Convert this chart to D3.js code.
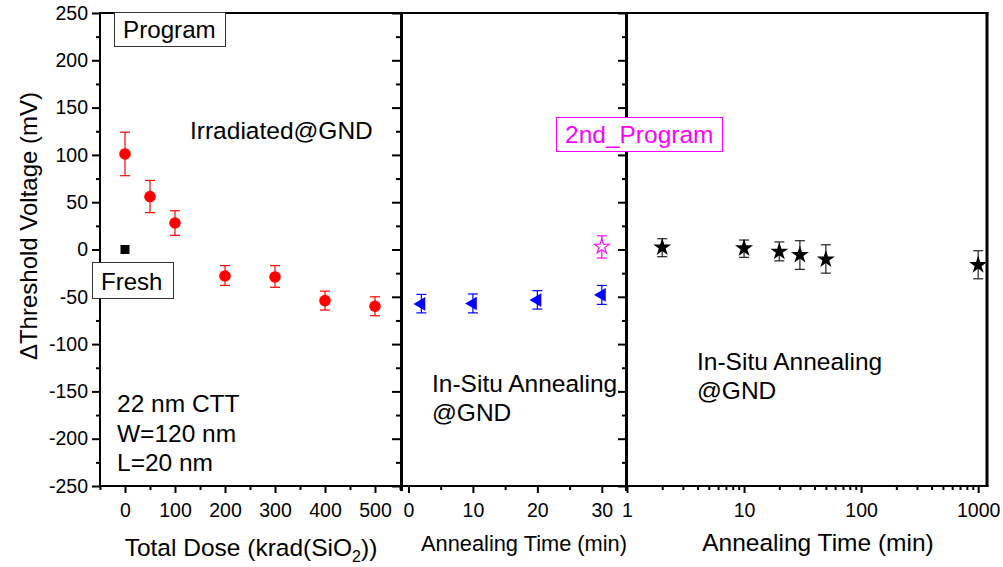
<!DOCTYPE html>
<html>
<head>
<meta charset="utf-8">
<script src="https://cdn.jsdelivr.net/npm/d3@7"></script>
<style>
  html, body { margin: 0; padding: 0; background: #fff; }
  svg { display: block; font-family: "Liberation Sans", Arial, sans-serif; }
</style>
</head>
<body>
<svg id="chart" width="1003" height="567"></svg>
<script>
// ---- Data ----
// Panel 1: threshold shift vs. total ionizing dose (irradiated, gate @ GND)
const doseKrad      = [0, 50, 100, 200, 300, 400, 500];
const doseShift     = [101, 56, 28, -28, -29, -54, -60];
const doseErrLow    = [78, 39, 15, -38, -40, -64, -70];
const doseErrHigh   = [124, 73, 41, -17, -17, -44, -50];
const freshDose     = [0];
const freshShift    = [0];

// Panel 2: in-situ annealing (linear time axis)
const annealTime1   = [2, 10, 20, 30];
const annealShift1  = [-57.5, -57, -53.5, -48];
const annealLow1    = [-67, -67, -63, -58];
const annealHigh1   = [-47.5, -47, -43.5, -38];
const reprogTime    = [30];
const reprogShift   = [3];
const reprogLow     = [-9];
const reprogHigh    = [14.5];

// Panel 3: in-situ annealing after second program (log time axis)
const annealTime2   = [2, 10, 20, 30, 50, 1000];
const annealShift2  = [2.3, 1.3, -2.3, -5.8, -10.4, -16.4];
const annealLow2    = [-7.6, -8.3, -12, -21, -25, -31];
const annealHigh2   = [11.4, 10, 8, 9.3, 5, -1.3];

// Axis extents and ticks
const yExtent       = [-250, 250];
const yTicks        = [-250, -200, -150, -100, -50, 0, 50, 100, 150, 200, 250];
const doseExtent    = [-50, 550];
const doseTicks     = [0, 100, 200, 300, 400, 500];
const time1Extent   = [-1, 33.75];
const time1Ticks    = [0, 10, 20, 30];
const time2Extent   = [1, 1190];
const time2Ticks    = [1, 10, 100, 1000];

// ---- Layout ----
const svg = d3.select("#chart");
const plotTop = 13, plotBottom = 486;
const p1 = [100, 400], p2 = [402, 626], p3 = [627, 987];

const y = d3.scaleLinear().domain(yExtent).range([plotBottom, plotTop]);
const x1 = d3.scaleLinear().domain(doseExtent).range(p1);
const x2 = d3.scaleLinear().domain(time1Extent).range(p2);
const x3 = d3.scaleLog().domain(time2Extent).range(p3);

const RED = "#ff0000", BLUE = "#0000ff", MAG = "#ff00ff";
const plain = d => String(d);   // hyphen-minus labels

// ---- Axes ----
const yMinor = d3.range(-250, 251, 25).filter(v => v % 50 !== 0);

// left y axis with labels
const gy = svg.append("g").attr("transform", `translate(${p1[0]},0)`);
gy.call(d3.axisLeft(y).tickValues(yTicks).tickSize(8).tickPadding(4).tickFormat(plain));
gy.append("g").call(d3.axisLeft(y).tickValues(yMinor).tickSize(4).tickFormat(""));

// right-hand ticks (pointing inward) for panel 1 and panel 2
[p1[1], p2[1]].forEach(px => {
  const g = svg.append("g").attr("transform", `translate(${px},0)`);
  g.call(d3.axisLeft(y).tickValues(yTicks).tickSize(8).tickFormat(""));
  g.append("g").call(d3.axisLeft(y).tickValues(yMinor).tickSize(4).tickFormat(""));
});

// bottom x axes
const gx1 = svg.append("g").attr("transform", `translate(0,${plotBottom})`);
gx1.call(d3.axisBottom(x1).tickValues(doseTicks).tickSize(7).tickPadding(10).tickFormat(plain));
gx1.append("g").call(d3.axisBottom(x1).tickValues(d3.range(-50, 551, 100)).tickSize(4).tickFormat(""));

const gx2 = svg.append("g").attr("transform", `translate(0,${plotBottom})`);
gx2.call(d3.axisBottom(x2).tickValues(time1Ticks).tickSize(7).tickPadding(10).tickFormat(plain));
gx2.append("g").call(d3.axisBottom(x2).tickValues([5, 15, 25]).tickSize(4).tickFormat(""));

const logMinor = [];
[1, 10, 100].forEach(dec => d3.range(2, 10).forEach(m => logMinor.push(dec * m)));
const gx3 = svg.append("g").attr("transform", `translate(0,${plotBottom})`);
gx3.call(d3.axisBottom(x3).tickValues(time2Ticks).tickSize(7).tickPadding(10).tickFormat(plain));
gx3.append("g").call(d3.axisBottom(x3).tickValues(logMinor).tickSize(4).tickFormat(""));

// axis styling
svg.selectAll(".domain").remove();
svg.selectAll(".tick line").attr("stroke", "#000").attr("stroke-width", 2);
svg.selectAll(".tick text").attr("fill", "#000").style("font-size", "19.5px")
   .style("font-family", '"Liberation Sans", Arial, sans-serif');

// frame lines
const frame = svg.append("g").attr("stroke", "#000").attr("fill", "none");
frame.append("line").attr("x1", p1[0]).attr("x2", p3[1] + 1.5).attr("y1", plotTop).attr("y2", plotTop).attr("stroke-width", 2);
frame.append("line").attr("x1", p1[0] - 1).attr("x2", p3[1] + 1.5).attr("y1", plotBottom).attr("y2", plotBottom).attr("stroke-width", 2);
frame.append("line").attr("x1", p1[0]).attr("x2", p1[0]).attr("y1", plotTop - 1).attr("y2", plotBottom + 1).attr("stroke-width", 2);
frame.append("line").attr("x1", 401.5).attr("x2", 401.5).attr("y1", plotTop - 1).attr("y2", plotBottom + 5).attr("stroke-width", 3);
frame.append("line").attr("x1", 626.5).attr("x2", 626.5).attr("y1", plotTop - 1).attr("y2", plotBottom + 5).attr("stroke-width", 3);
frame.append("line").attr("x1", p3[1]).attr("x2", p3[1]).attr("y1", plotTop - 1).attr("y2", plotBottom + 1).attr("stroke-width", 3);

// ---- Marks ----
function errorBars(g, xs, lo, hi, xScale, color) {
  const cap = 5;
  const eg = g.append("g").attr("stroke", color).attr("stroke-width", 1.2).attr("fill", "none");
  xs.forEach((xv, i) => {
    const cx = xScale(xv);
    eg.append("line").attr("x1", cx).attr("x2", cx).attr("y1", y(lo[i])).attr("y2", y(hi[i]));
    eg.append("line").attr("x1", cx - cap).attr("x2", cx + cap).attr("y1", y(lo[i])).attr("y2", y(lo[i]));
    eg.append("line").attr("x1", cx - cap).attr("x2", cx + cap).attr("y1", y(hi[i])).attr("y2", y(hi[i]));
  });
}

const marks = svg.append("g");

// panel 1
errorBars(marks, doseKrad, doseErrLow, doseErrHigh, x1, RED);
marks.append("g").selectAll("circle").data(doseKrad).join("circle")
  .attr("cx", d => x1(d)).attr("cy", (d, i) => y(doseShift[i])).attr("r", 5.8).attr("fill", RED);
marks.append("g").selectAll("rect").data(freshDose).join("rect")
  .attr("x", d => x1(d) - 4.5).attr("y", (d, i) => y(freshShift[i]) - 4.5)
  .attr("width", 9).attr("height", 9).attr("fill", "#000");

// panel 2
errorBars(marks, annealTime1, annealLow1, annealHigh1, x2, BLUE);
const tri = d3.symbol().type(d3.symbolTriangle).size(80);
marks.append("g").selectAll("path").data(annealTime1).join("path")
  .attr("d", tri)
  .attr("transform", (d, i) => `translate(${x2(d)},${y(annealShift1[i])}) rotate(-90)`)
  .attr("fill", BLUE);

errorBars(marks, reprogTime, reprogLow, reprogHigh, x2, MAG);
const star = d3.symbol().type(d3.symbolStar);
marks.append("g").selectAll("path").data(reprogTime).join("path")
  .attr("d", star.size(70))
  .attr("transform", (d, i) => `translate(${x2(d)},${y(reprogShift[i])})`)
  .attr("fill", "#fff").attr("stroke", MAG).attr("stroke-width", 1.1);

// panel 3
errorBars(marks, annealTime2, annealLow2, annealHigh2, x3, "#222");
marks.append("g").selectAll("path").data(annealTime2).join("path")
  .attr("d", d3.symbol().type(d3.symbolStar).size(100))
  .attr("transform", (d, i) => `translate(${x3(d)},${y(annealShift2[i])})`)
  .attr("fill", "#000");

// ---- Text ----
const txt = (x, yy, s, size, opts = {}) => svg.append("text")
  .attr("x", x).attr("y", yy).text(s)
  .style("font-size", size + "px")
  .attr("fill", opts.fill || "#000")
  .attr("text-anchor", opts.anchor || "start");

// boxed labels
function boxLabel(x0, y0, w, h, s, size, color, tx, ty) {
  svg.append("rect").attr("x", x0).attr("y", y0).attr("width", w).attr("height", h)
    .attr("fill", "#fff").attr("stroke", color === "#000" ? "#333" : color).attr("stroke-width", 1);
  txt(tx, ty, s, size, { fill: color });
}
boxLabel(114.5, 12.5, 111, 34, "Program", 24.2, "#000", 123, 38);
boxLabel(92.5, 262.5, 81, 36, "Fresh", 24, "#000", 101, 290);
boxLabel(556.5, 117.5, 166, 34, "2nd_Program", 24.5, MAG, 565, 143);

const ann = 24.5;
txt(190, 139, "Irradiated@GND", ann);
txt(117, 412, "22 nm CTT", ann);
txt(117, 442, "W=120 nm", ann);
txt(117, 471, "L=20 nm", ann);
txt(432, 392, "In-Situ Annealing", ann);
txt(432, 421, "@GND", ann);
txt(697, 370, "In-Situ Annealing", ann);
txt(697, 399, "@GND", ann);

// axis titles
const t1 = svg.append("text").attr("x", 251).attr("y", 556).attr("text-anchor", "middle")
  .style("font-size", "24.5px");
t1.append("tspan").text("Total Dose (krad(SiO");
t1.append("tspan").text("2").attr("dy", 6).style("font-size", "16px");
t1.append("tspan").text("))").attr("dy", -6);

txt(524, 551, "Annealing Time (min)", 21.8, { anchor: "middle" });
txt(818, 551, "Annealing Time (min)", 24.5, { anchor: "middle" });

svg.append("text")
  .attr("transform", "translate(37,226) rotate(-90)")
  .attr("text-anchor", "middle")
  .style("font-size", "24px")
  .text("\u0394Threshold Voltage (mV)");
</script>
</body>
</html>
